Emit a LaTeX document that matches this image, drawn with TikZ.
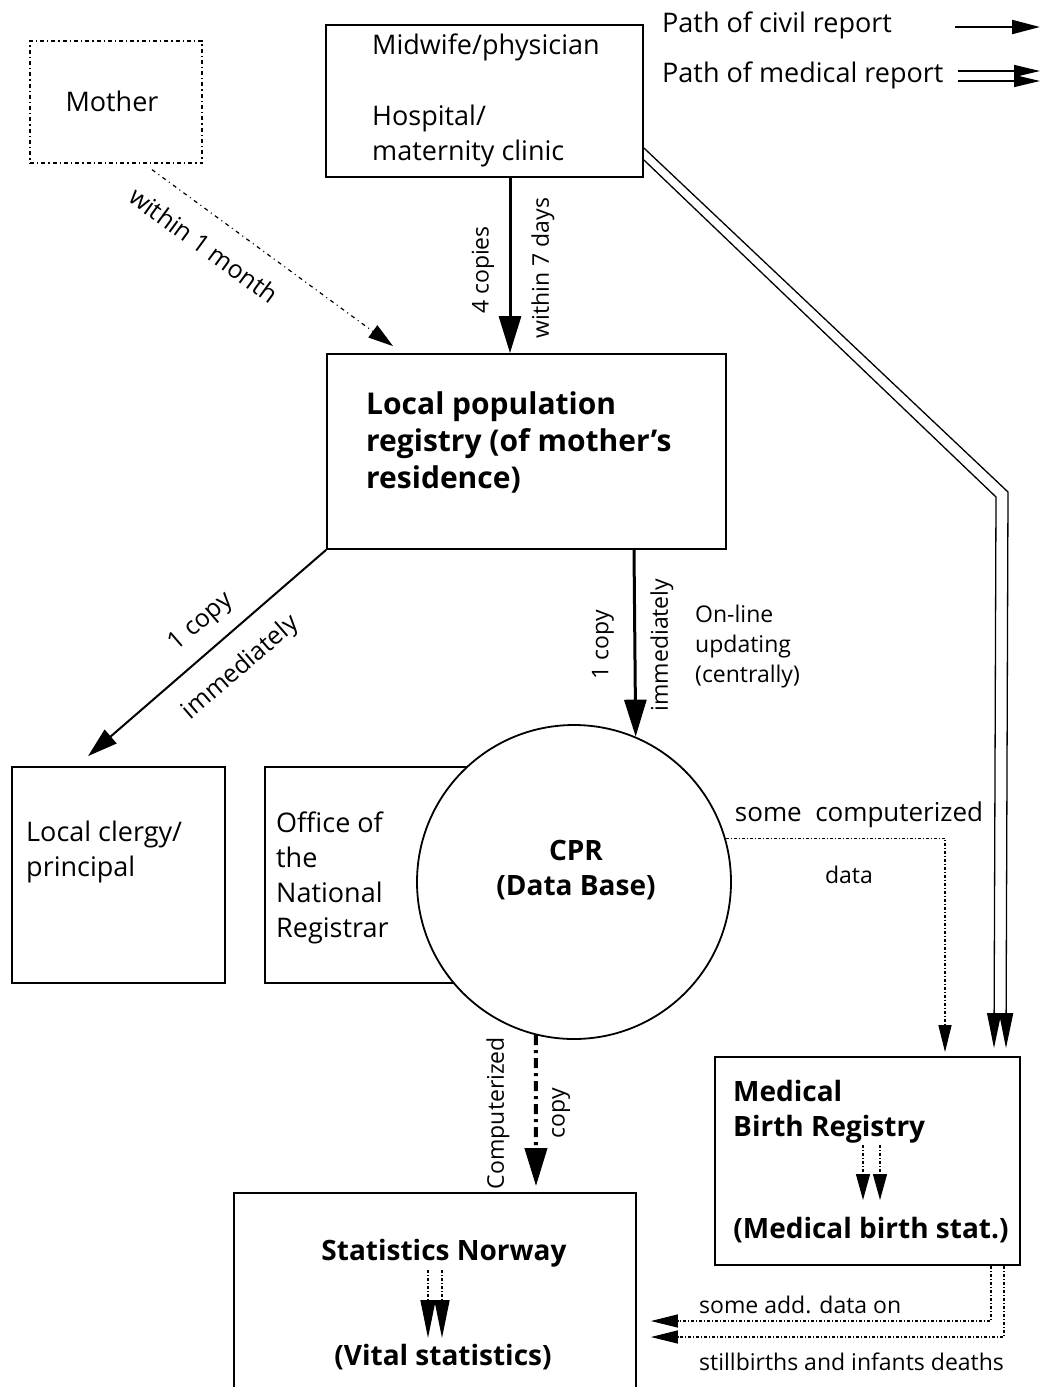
\documentclass[tikz,border=0pt]{standalone}
\usepackage{fontspec}
\setmainfont{Open Sans}
\usetikzlibrary{arrows.meta}

\begin{document}
\begin{tikzpicture}[x=1pt,y=-1pt,
    every node/.style={font=\fontsize{27}{35}\selectfont,inner sep=0pt},
    boite/.style={draw,line width=1.8pt},
    txt/.style={anchor=west,align=left},
    gras/.style={font=\fontsize{28}{35}\selectfont\bfseries},
    lab/.style={font=\fontsize{23}{30}\selectfont},
    labb/.style={font=\fontsize{25}{30}\selectfont},
    civil/.style={line width=3pt,-{Triangle[length=37pt,width=22pt]}},
    medic/.style={line width=1.3pt,-{Triangle[length=35pt,width=14pt]}},
    pointille/.style={line width=1.3pt,dash pattern=on 3pt off 2pt on 1pt off 2pt},
    tiret/.style={line width=4pt,dash pattern=on 10pt off 5pt on 3pt off 5pt}]
  \useasboundingbox (0,0) rectangle (1040,1387);
  \clip (0,0) rectangle (1040,1387);
  % legende
  \node[txt] (leg1) at (662,25) {Path of civil report};
  \node[txt] (leg2) at (662,75) {Path of medical report};
  \coordinate (lc1) at (955,27);  \coordinate (lc2) at (1040,27);
  \coordinate (lm1) at (958,71);  \coordinate (lm2) at (1040,71);
  \coordinate (lm3) at (958,81);  \coordinate (lm4) at (1040,81);
  \draw[line width=2pt,-{Triangle[length=28pt,width=14pt]}] (lc1) -- (lc2);
  \draw[line width=1.3pt,-{Triangle[length=26pt,width=12pt]}] (lm1) -- (lm2);
  \draw[line width=1.3pt,-{Triangle[length=26pt,width=12pt]}] (lm3) -- (lm4);

  % boites
  \node[boite,line width=1.3pt,dash pattern=on 4pt off 3pt on 1.3pt off 3pt,
        minimum width=172pt,minimum height=122pt] (mother) at (116,102) {};
  \node (t-mother) at (112,101) {Mother};
  \node[boite,minimum width=317pt,minimum height=152pt] (midwife) at (484.5,101) {};
  \node[txt] (t-midwife) at (372,100) {Midwife/physician\\[36pt]Hospital/\\maternity clinic};
  \node[boite,minimum width=399pt,minimum height=195pt] (local) at (526.5,451.5) {};
  \node[txt,font=\fontsize{30}{37}\selectfont\bfseries] (t-local) at (366,442) {Local population\\registry (of mother's\\residence)};
  \node[boite,minimum width=213pt,minimum height=216pt] (clergy) at (118.5,875) {};
  \node[txt] (t-clergy) at (26,852) {Local clergy/\\principal};
  \node[boite,minimum width=210pt,minimum height=216pt] (office) at (370,875) {};
  \node[txt] (t-office) at (276,878) {Office of\\the\\National\\Registrar};
  \node[boite,circle,fill=white,minimum size=314pt] (cpr) at (574,882) {};
  \node[gras,align=center] (t-cpr) at (576,870) {CPR\\(Data Base)};
  \node[boite,minimum width=305pt,minimum height=208pt] (medical) at (867.5,1161) {};
  \node[txt,gras] (t-medical) at (733,1112) {Medical\\Birth Registry};
  \node[gras] (t-medstat) at (871,1230) {(Medical birth stat.)};
  \node[boite,minimum width=402pt,minimum height=227pt] (stats) at (435,1306.5) {};
  \node[gras] (t-stats) at (444,1253) {Statistics Norway};
  \node[gras] (t-vital) at (443,1357) {(Vital statistics)};

  % chemin civil
  \draw[line width=1.2pt,dash pattern=on 4pt off 4pt on 1pt off 4pt,-{Triangle[length=25pt,width=15pt]}]
    ([xshift=36pt,yshift=-6pt]mother.south) -- node[labb,sloped,pos=0.29,below=20pt]{within 1 month}
    ([xshift=-133.5pt,yshift=7pt]local.north);
  \draw[civil] ([xshift=25.5pt]midwife.south) -- ([xshift=-16.5pt]local.north);
  \node[lab,rotate=90] (l-4c) at (483,270) {4 copies};
  \node[lab,rotate=90] (l-7d) at (543,268) {within 7 days};
  \draw[civil,line width=2pt,-{Triangle[length=30pt,width=18pt]}] (local.south west)
    -- node[labb,sloped,pos=0.45,above=14pt]{1 copy} node[labb,sloped,pos=0.45,below=20pt]{immediately}
    ([xshift=-30.5pt,yshift=10pt]clergy.north);
  \draw[civil] ([xshift=107.5pt]local.south) -- (cpr.67.5);
  \node[lab,rotate=90] (l-1c) at (603,645) {1 copy};
  \node[lab,rotate=90] (l-imm) at (662,645) {immediately};
  \node[lab,txt] (l-online) at (695,647) {On-line\\updating\\(centrally)};

  % CPR -> registre medical
  \draw[pointille,-{Triangle[length=27pt,width=13pt]}] (cpr.16.3) -| ([xshift=77.5pt,yshift=4pt]medical.north);
  \node[font=\fontsize{26}{30}\selectfont] (l-some) at (859,815) {some\ \ computerized};
  \node[lab] (l-data) at (849,875) {data};

  % chemin medical (double)
  \coordinate (coude1) at (1008,492);
  \coordinate (coude2) at (996,497);
  \draw[medic] ([yshift=-47pt]midwife.east) -- (coude1) -- ([xshift=138.5pt,yshift=8pt]medical.north);
  \draw[medic] ([yshift=-59pt]midwife.east) -- (coude2) -- ([xshift=126.5pt,yshift=8pt]medical.north);

  % CPR -> statistique
  \draw[tiret,-{Triangle[length=38pt,width=22pt]}] (cpr.256) -- ([xshift=101pt,yshift=6pt]stats.north);
  \node[lab,rotate=90] (l-comp) at (498,1113) {Computerized};
  \node[lab,rotate=90] (l-copy) at (561,1113) {copy};

  % registre medical -> statistique
  \draw[pointille,-{Triangle[length=27pt,width=13pt]}] ([xshift=123.5pt]medical.south) |- ([xshift=14pt,yshift=-14.5pt]stats.east);
  \draw[pointille,-{Triangle[length=27pt,width=13pt]}] ([xshift=136.5pt]medical.south) |- ([xshift=14pt,yshift=-30.5pt]stats.east);
  \node[lab,txt] (l-add) at (699,1305) {some add. data on};
  \node[lab,txt] (l-still) at (699,1362) {stillbirths and infants deaths};

  % fleches internes
  \foreach \dx in {-4.5,12.5}
    \draw[pointille,-{Triangle[length=26pt,width=14pt]}] ([xshift=\dx pt,yshift=16pt]medical.center) -- ([xshift=\dx pt,yshift=-39pt]medical.center);
  \foreach \dx in {-7,7}
    \draw[pointille,line width=1.6pt,-{Triangle[length=38pt,width=15pt]}] ([xshift=\dx pt,yshift=36.5pt]stats.center) -- ([xshift=\dx pt,yshift=-31.5pt]stats.center);
\end{tikzpicture}
\end{document}
